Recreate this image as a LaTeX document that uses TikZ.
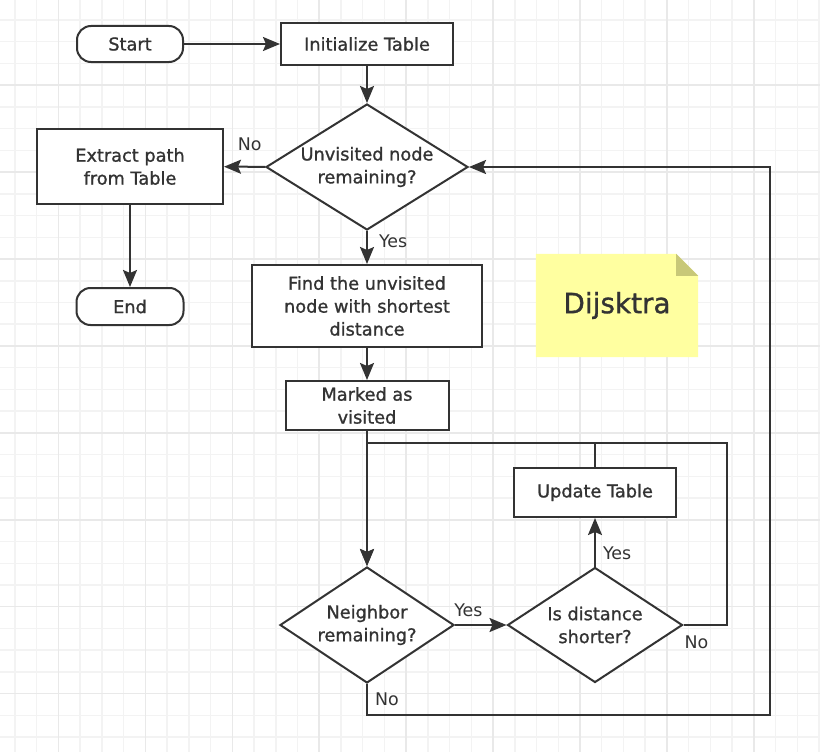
\documentclass[tikz,border=0pt]{standalone}
\usepackage{fontspec}
\setmainfont{DejaVu Sans}
\newfontfamily\nodefont{DejaVu Sans}[FakeBold=1.1]
\usepackage{tikz}
\usetikzlibrary{arrows.meta, positioning, shapes.geometric}
\definecolor{fcdark}{RGB}{51,51,51}
\definecolor{fcgrid}{RGB}{243,243,243}
\definecolor{fcgridmajor}{RGB}{233,233,233}
\definecolor{fcnote}{RGB}{255,255,160}
\definecolor{fcfold}{RGB}{200,200,120}

\begin{document}
\begin{tikzpicture}[x=1bp, y=-1bp,
    every node/.style={font=\nodefont\fontsize{17.8}{23}\selectfont, text=fcdark},
    proc/.style={rectangle, draw=fcdark, line width=2bp, fill=white,
                 align=center, inner sep=0pt},
    term/.style={proc, rounded corners=14bp},
    decision/.style={diamond, draw=fcdark, line width=2bp, fill=white,
                     align=center, inner sep=0pt},
    flow/.style={draw=fcdark, line width=2bp,
                 -{Stealth[length=17bp, width=14bp, inset=3bp]}},
    link/.style={draw=fcdark, line width=2bp},
    lbl/.style={inner sep=1bp, font=\normalfont\fontsize{17.5}{23}\selectfont}]
  % Canvas and grid
  \useasboundingbox (0,0) rectangle (820,752);
  \fill[white] (0,0) rectangle (820,752);
  \foreach \k in {0,...,37}
    \draw[fcgrid, line width=1.5bp] (15+21.73*\k,0) -- (15+21.73*\k,752);
  \foreach \k in {0,...,33}
    \draw[fcgrid, line width=1.5bp] (0,20+21.73*\k) -- (820,20+21.73*\k);
  \foreach \k in {2,6,...,34}
    \draw[fcgridmajor, line width=1.5bp] (15+21.73*\k,0) -- (15+21.73*\k,752);
  \foreach \k in {3,7,...,31}
    \draw[fcgridmajor, line width=1.5bp] (0,20+21.73*\k) -- (820,20+21.73*\k);

  % Top row: Start and table setup
  \node[term, minimum width=106bp, minimum height=36bp] (start) at (130,44) {Start};
  \node[proc, minimum width=172bp, minimum height=41bp] (init) at (367,44) {Initialize Table};
  \draw[flow] (start) -- (init);

  % Outer decision
  \node[decision, aspect=1.6, minimum width=202bp, minimum height=126bp]
    (q1) at (367,167) {Unvisited node\\remaining?};
  \draw[flow] (init) -- (q1);

  % Left branch: finish
  \node[proc, minimum width=186bp, minimum height=75bp]
    (extract) at (130,166.5) {Extract path\\from Table};
  \node[term, minimum width=107bp, minimum height=37bp] (end) at (130,306.5) {End};
  \draw[flow] (q1) -- node[lbl, pos=0.38, above=14bp] {No} (extract);
  \draw[flow] (extract) -- (end);

  % Centre column
  \node[proc, minimum width=230bp, minimum height=82bp]
    (find) at (367,306) {Find the unvisited\\node with shortest\\distance};
  \node[proc, minimum width=163bp, minimum height=49bp]
    (mark) at (367,405.5) {Marked as\\visited};
  \draw[flow] (q1) -- node[lbl, pos=0.31, right=10bp] {Yes} (find);
  \draw[flow] (find) -- (mark);

  % Note
  \node[minimum width=162bp, minimum height=103bp, inner sep=0pt] (note) at (617,305.5) {};
  \fill[fcnote] (note.north west) -- ([xshift=-22bp]note.north east)
    -- ([yshift=-22bp]note.north east) -- (note.south east) -- (note.south west) -- cycle;
  \fill[fcfold] ([xshift=-22bp]note.north east) -- ([yshift=-22bp]note.north east)
    -- ([xshift=-22bp, yshift=-22bp]note.north east) -- cycle;
  \node[font=\nodefont\fontsize{28}{30}\selectfont] at (note.center) {Dijsktra};

  % Inner loop over neighbours
  \node[decision, aspect=1.5, minimum width=174bp, minimum height=116bp]
    (q2) at (367,625) {Neighbor\\remaining?};
  \node[decision, aspect=1.52, minimum width=175bp, minimum height=115bp]
    (q3) at (595,625) {Is distance\\shorter?};
  \node[proc, minimum width=162bp, minimum height=49bp]
    (update) at (595,492.5) {Update Table};
  \coordinate (innerR) at (727,443);
  \coordinate (outerR) at (770,715);

  \draw[flow] (mark) -- (q2);
  \draw[flow] (q2) -- node[lbl, pos=0.26, above=6bp] {Yes} (q3);
  \draw[flow] (q3) -- node[lbl, pos=0.27, right=6bp] {Yes} (update);
  \draw[link] (update.north) -- (update.north |- innerR);
  \draw[flow] (q3.east) -| node[lbl, pos=0.15, below=9bp] {No} (innerR) -| (q2.north);

  % Back to the outer decision
  \draw[flow] (q2.south) |- node[lbl, pos=0.25, right=6bp] {No} (outerR) |- (q1.east);
\end{tikzpicture}
\end{document}
